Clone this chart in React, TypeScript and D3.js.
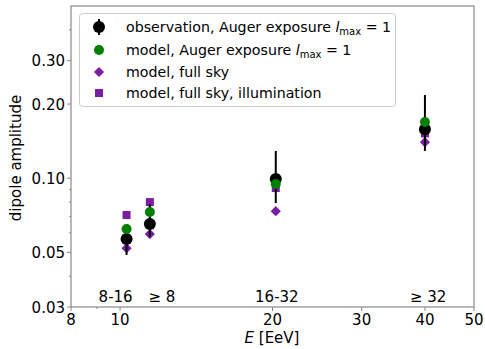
import * as d3 from 'd3';

// energies (EeV) of the four bins
const energies = [10.3, 11.45, 20.3, 40.0];
const binLabels = ['8-16', '≥ 8', '16-32', '≥ 32'];
const labelX = [9.8, 12.1, 20.4, 40.6];

const observation = [0.0566, 0.0652, 0.0992, 0.158];
const obsLow = [0.0488, 0.0577, 0.0792, 0.129];
const obsHigh = [0.065, 0.078, 0.129, 0.2176];
const modelAuger = [0.0622, 0.0729, 0.0947, 0.169];
const modelFullSky = [0.052, 0.0593, 0.0735, 0.140];
const modelIllum = [0.0709, 0.080, 0.0912, 0.152];

const xTicks = [8, 10, 20, 30, 40, 50];
const xMinor = [9];
const yTicks = [0.03, 0.05, 0.1, 0.2, 0.3];
const yTickLabels = ['0.03', '0.05', '0.10', '0.20', '0.30'];
const yMinor = [0.04, 0.06, 0.07, 0.08, 0.09, 0.4];

const W = 485;
const H = 349;
const margin = { top: 6, right: 11, bottom: 42, left: 71 };
const font = '"DejaVu Sans", sans-serif';
const purple = '#7b1fa2';
const green = '#008000';
const spine = '#888';

// matplotlib 'D' marker: a square turned by 45 degrees
const Diamond = ({ cx, cy }: { cx: number; cy: number }) => (
	<rect x={-3.6} y={-3.6} width={7.2} height={7.2} fill={purple}
		transform={`translate(${cx},${cy}) rotate(45)`} />
);

export default function App() {
	const x = d3.scaleLog().domain([8, 50]).range([margin.left, W - margin.right]);
	const y = d3.scaleLog().domain([0.03, 0.5]).range([H - margin.bottom, margin.top]);
	const bottom = H - margin.bottom;
	const left = margin.left;
	const legendRows = [27, 50, 72, 93];
	const legendX = 99;

	return (
		<svg width={W} height={H} style={{ position: 'absolute', left: 0, top: 0, background: '#fff' }}
			fontFamily={font}>
			{/* ticks */}
			{xTicks.map((t, i) => (
				<g key={'xt' + i}>
					<line x1={x(t)} x2={x(t)} y1={bottom} y2={bottom + 4} stroke={spine} />
					<text x={x(t)} y={325} fontSize={15} textAnchor="middle">{t}</text>
				</g>
			))}
			{xMinor.map((t, i) => (
				<line key={'xm' + i} x1={x(t)} x2={x(t)} y1={bottom} y2={bottom + 2} stroke={spine} />
			))}
			{yTicks.map((t, i) => (
				<g key={'yt' + i}>
					<line x1={left - 4} x2={left} y1={y(t)} y2={y(t)} stroke={spine} />
					<text x={left - 6} y={y(t) + 5.5} fontSize={15} textAnchor="end">{yTickLabels[i]}</text>
				</g>
			))}
			{yMinor.map((t, i) => (
				<line key={'ym' + i} x1={left - 2} x2={left} y1={y(t)} y2={y(t)} stroke={spine} />
			))}

			{/* axis titles */}
			<text x={272} y={343} fontSize={15} textAnchor="middle">
				<tspan fontStyle="italic">E</tspan> [EeV]
			</text>
			<text transform="translate(21,158) rotate(-90)" fontSize={15} textAnchor="middle">dipole amplitude</text>

			{/* bin labels */}
			{binLabels.map((l, i) => (
				<text key={'bl' + i} x={x(labelX[i])} y={302} fontSize={15} textAnchor="middle">{l}</text>
			))}

			{/* model, full sky */}
			{energies.map((e, i) => (
				<Diamond key={'d' + i} cx={x(e)} cy={y(modelFullSky[i])} />
			))}
			{/* model, full sky, illumination */}
			{energies.map((e, i) => (
				<rect key={'s' + i} x={x(e) - 4} y={y(modelIllum[i]) - 4} width={8} height={8} fill={purple} />
			))}
			{/* observation */}
			{energies.map((e, i) => (
				<g key={'o' + i}>
					<line x1={x(e)} x2={x(e)} y1={y(obsLow[i])} y2={y(obsHigh[i])} stroke="#000" strokeWidth={2} />
					<circle cx={x(e)} cy={y(observation[i])} r={6} fill="#000" />
				</g>
			))}
			{/* model, Auger exposure */}
			{energies.map((e, i) => (
				<circle key={'g' + i} cx={x(e)} cy={y(modelAuger[i])} r={5} fill={green} />
			))}

			{/* frame */}
			<rect x={left} y={margin.top} width={W - margin.right - left} height={bottom - margin.top}
				fill="none" stroke={spine} strokeWidth={1.2} />

			{/* legend */}
			<rect x={79.5} y={13.5} width={316} height={93} rx={3} fill="#fff" fillOpacity={0.8} stroke="#ccc" />
			<line x1={legendX} x2={legendX} y1={legendRows[0] - 8} y2={legendRows[0] + 8} stroke="#000" strokeWidth={2} />
			<circle cx={legendX} cy={legendRows[0]} r={6} fill="#000" />
			<circle cx={legendX} cy={legendRows[1]} r={5} fill={green} />
			<Diamond cx={legendX} cy={legendRows[2]} />
			<rect x={legendX - 4} y={legendRows[3] - 4} width={8} height={8} fill={purple} />
			<g fontSize={14.2}>
				<text x={126} y={legendRows[0] + 5}>
					observation, Auger exposure <tspan fontStyle="italic">l</tspan>
					<tspan fontSize={10} dy={3}>max</tspan>
					<tspan dy={-3}> = 1</tspan>
				</text>
				<text x={126} y={legendRows[1] + 5}>
					model, Auger exposure <tspan fontStyle="italic">l</tspan>
					<tspan fontSize={10} dy={3}>max</tspan>
					<tspan dy={-3}> = 1</tspan>
				</text>
				<text x={126} y={legendRows[2] + 5}>model, full sky</text>
				<text x={126} y={legendRows[3] + 5}>model, full sky, illumination</text>
			</g>
		</svg>
	);
}
